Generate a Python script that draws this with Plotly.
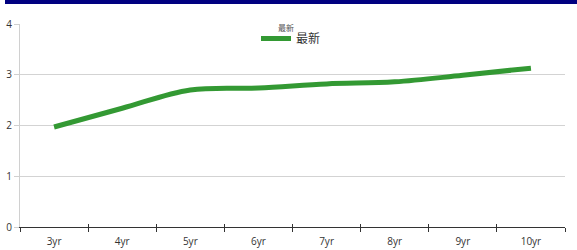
import plotly.graph_objects as go

categories = ["3yr", "4yr", "5yr", "6yr", "7yr", "8yr", "9yr", "10yr"]
latest = [1.97, 2.34, 2.70, 2.74, 2.82, 2.86, 2.99, 3.13]
series_name = "最新"
y_ticks = [0, 1, 2, 3, 4]

W, H = 577, 250
L, R, T, B = 20, 12, 24, 23
pw = W - L - R
ph = H - T - B

fig = go.Figure()
fig.add_trace(go.Scatter(
    x=categories, y=latest, mode="lines", name=series_name,
    line=dict(color="#339933", width=5, shape="spline", smoothing=1.0),
    hoverinfo="skip",
))

# invisible helper trace for upper tick marks on x axis
fig.add_trace(go.Scatter(x=[0], y=[0], xaxis="x2", mode="markers",
                         marker=dict(opacity=0), showlegend=False, hoverinfo="skip"))

fig.update_layout(
    width=W, height=H,
    margin=dict(l=L, r=R, t=T, b=B, autoexpand=False),
    paper_bgcolor="white", plot_bgcolor="white",
    font=dict(family="Open Sans, DejaVu Sans, Noto Sans CJK SC", size=10, color="#333333"),
    xaxis=dict(
        type="category", categoryorder="array", categoryarray=categories,
        range=[-0.5, len(categories) - 0.5], automargin=False,
        showline=True, linecolor="#333333", linewidth=1,
        ticks="outside", tickson="boundaries", ticklen=4, tickcolor="#333333",
        showgrid=False, zeroline=False, ticklabelstandoff=5,
        tickfont=dict(size=10, color="#333333"),
    ),
    xaxis2=dict(
        overlaying="x", anchor="y", range=[-0.5, len(categories) - 0.5],
        tickmode="array", tickvals=[i - 0.5 for i in range(len(categories) + 1)],
        ticktext=[""] * (len(categories) + 1), automargin=False,
        ticks="inside", ticklen=3, tickcolor="#333333",
        showline=False, showgrid=False, zeroline=False, side="bottom",
    ),
    yaxis=dict(
        range=[0, 4], tickvals=y_ticks, automargin=False,
        showline=True, linecolor="#d0d0d0", linewidth=1,
        ticks="outside", ticklen=5, tickcolor="#d0d0d0",
        showgrid=True, gridcolor="#d3d3d3", gridwidth=1,
        zeroline=False, tickfont=dict(size=10, color="#333333"),
    ),
    showlegend=True,
    legend=dict(
        orientation="h", x=(291 - L) / pw, xanchor="center",
        yref="container", y=1 - 24 / H, yanchor="top",
        bgcolor="rgba(0,0,0,0)",
        font=dict(size=12, color="#333333"),
        itemwidth=30,
    ),
    annotations=[dict(
        text=series_name, xref="paper", yref="paper",
        x=(286 - L) / pw, y=(H - B - 28) / ph, xanchor="center", yanchor="middle",
        showarrow=False, font=dict(size=8, color="#555555"),
    )],
    shapes=[dict(
        type="rect", xref="paper", yref="paper",
        x0=(5 - L) / pw, x1=(W - L) / pw,
        ysizemode="pixel", yanchor=1, y0=T - 4, y1=T + 1,
        fillcolor="#000080", line=dict(width=0), layer="above",
    )],
)

fig.write_html("out.html", config={"displayModeBar": False},
               post_script="document.body.style.margin='0px';")
